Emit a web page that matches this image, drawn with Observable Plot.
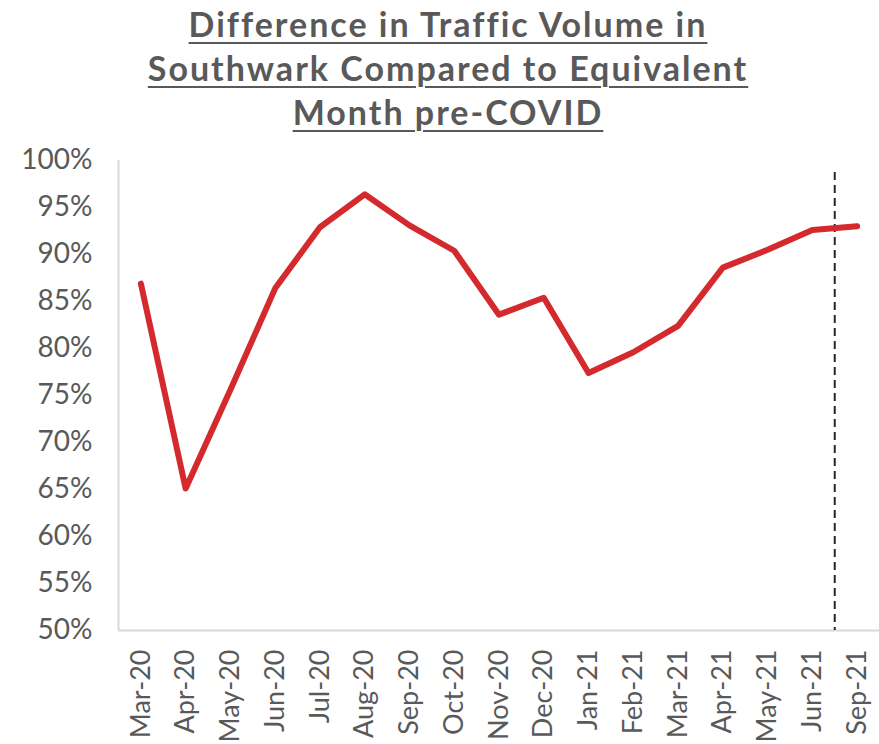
<!DOCTYPE html>
<html>
<head>
<meta charset="utf-8">
<script src="https://cdn.jsdelivr.net/npm/d3@7"></script>
<script src="https://cdn.jsdelivr.net/npm/@observablehq/plot@0.6"></script>
<style>
  html, body { margin: 0; padding: 0; background: #fff; }
  #title {
    position: relative;
    width: 896px;
    height: 140px;
    box-sizing: border-box;
    padding-top: 2px;
    text-align: center;
    font-family: Lato, sans-serif;
    font-weight: bold;
    font-size: 34px;
    letter-spacing: 2px;
    font-variant-ligatures: none;
    line-height: 44px;
    color: #595959;
    text-decoration: underline;
    text-decoration-thickness: 2px;
    text-underline-offset: 5px;
  }
  #chart svg { display: block; }
</style>
</head>
<body>
<div id="title">Difference in Traffic Volume in<br>Southwark Compared to Equivalent<br>Month pre-COVID</div>
<div id="chart"></div>
<script>
const months = ["Mar-20","Apr-20","May-20","Jun-20","Jul-20","Aug-20","Sep-20","Oct-20","Nov-20","Dec-20","Jan-21","Feb-21","Mar-21","Apr-21","May-21","Jun-21","Sep-21"];
const values = [86.9, 65.1, 75.6, 86.4, 92.9, 96.4, 93.1, 90.4, 83.6, 85.4, 77.4, 79.6, 82.4, 88.6, 90.5, 92.6, 93.0];
const yTicks = [50, 55, 60, 65, 70, 75, 80, 85, 90, 95, 100];
const dividerBefore = "Sep-21";

const data = months.map((m, i) => ({i, month: m, value: values[i]}));
const dividerX = months.indexOf(dividerBefore) - 0.5;

const chart = Plot.plot({
  width: 879,
  height: 604,
  marginTop: 20,
  marginBottom: 114,
  marginLeft: 118,
  marginRight: 0,
  style: {fontFamily: "Lato, sans-serif", fontSize: "27px", color: "#595959", background: "#fff"},
  x: {
    type: "linear",
    domain: [-0.5, months.length - 0.5],
    ticks: months.map((d, i) => i),
    tickFormat: i => months[i],
    label: null
  },
  y: {
    domain: [50, 100],
    ticks: yTicks,
    tickFormat: d => d + "%",
    label: null
  },
  marks: [
    Plot.axisX({ticks: months.map((d, i) => i), tickFormat: i => months[i], tickRotate: -90, tickSize: 0, tickPadding: 19, fontSize: 27, fill: "#595959", label: null}),
    Plot.axisY({ticks: yTicks, tickFormat: d => d + "%", tickSize: 0, tickPadding: 26, fontSize: 28, fill: "#595959", label: null}),
    Plot.ruleY([50], {stroke: "#d9d9d9", strokeWidth: 2}),
    Plot.ruleX([-0.5], {stroke: "#d9d9d9", strokeWidth: 2}),
    Plot.ruleX([dividerX], {stroke: "#262626", strokeWidth: 2, strokeDasharray: "8,5", insetTop: 12}),
    Plot.line(data, {x: "i", y: "value", stroke: "#d42a2e", strokeWidth: 6, strokeLinejoin: "round", strokeLinecap: "round"})
  ]
});
document.getElementById("chart").appendChild(chart);
</script>
</body>
</html>
